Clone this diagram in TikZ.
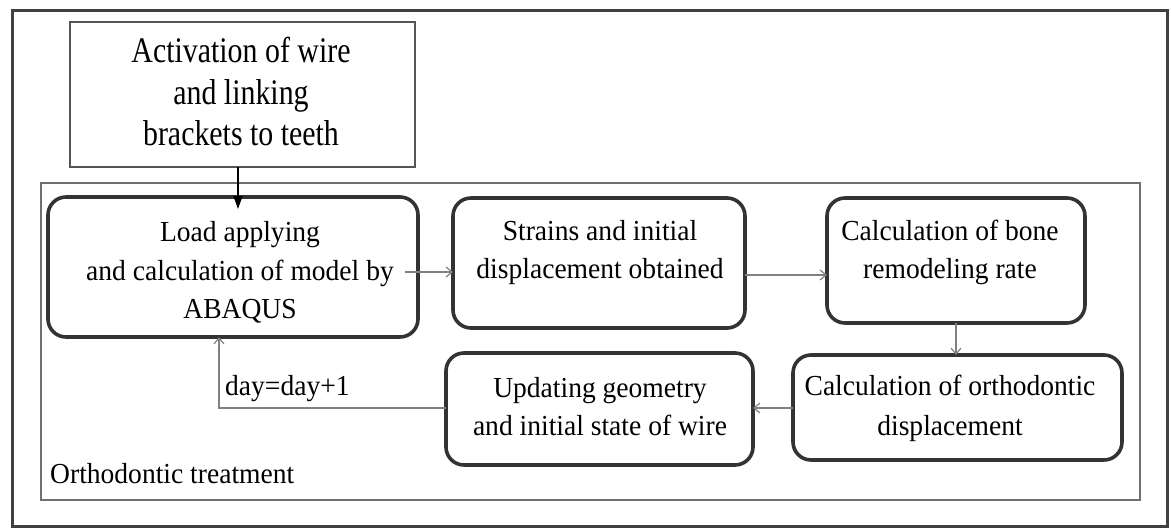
\documentclass[tikz,border=0pt]{standalone}
\usepackage{fontspec}
\setmainfont{Liberation Serif}
\newfontfamily\tallfont[FakeStretch=0.83]{Liberation Serif}
\newfontfamily\boxfont[FakeStretch=0.95]{Liberation Serif}
\usetikzlibrary{arrows.meta,calc}
\definecolor{framecol}{HTML}{404040}
\definecolor{contcol}{HTML}{707070}
\definecolor{topcol}{HTML}{555555}
\definecolor{boxcol}{HTML}{333333}
\definecolor{arrcol}{HTML}{808080}
\begin{document}
\begin{tikzpicture}[x=1pt,y=-1pt,
  rbox/.style={draw=boxcol, line width=3.6pt, rounded corners=18pt, inner sep=0pt, outer sep=0pt},
  plainbox/.style={draw=topcol, line width=1.3pt, inner sep=0pt, outer sep=0pt},
  txt/.style={align=center, inner sep=0pt, font=\boxfont\fontsize{29}{38.5}\selectfont},
  garr/.style={draw=arrcol, line width=1.4pt, -{Straight Barb[length=6pt,width=10pt,line width=1.2pt]}},
  karr/.style={draw=black, line width=1.3pt, -{Triangle[length=13pt,width=9pt]}}]
\useasboundingbox (0,0) rectangle (1171,528);
% outer frame and container
\node[draw=framecol, line width=3pt, minimum width=1155pt, minimum height=516pt, inner sep=0pt] (outer) at (589.5,268) {};
\node[draw=contcol, line width=1.3pt, minimum width=1099pt, minimum height=317pt, inner sep=0pt] (cont) at (590.5,341.5) {};
% top box
\node[plainbox, minimum width=345pt, minimum height=145pt] (tb) at (242.5,94.5) {};
\node[align=center, inner sep=0pt, font=\tallfont\fontsize{36}{41.5}\selectfont] (t0) at (241,91.5) {Activation of wire\\and linking\\brackets to teeth};
% rounded boxes
\node[rbox, minimum width=370pt, minimum height=140pt] (b1) at (233,267) {};
\node[rbox, minimum width=292pt, minimum height=130pt] (b2) at (599,263) {};
\node[rbox, minimum width=258pt, minimum height=125pt] (b3) at (956,260.5) {};
\node[rbox, minimum width=329pt, minimum height=105pt] (b4) at (957.5,407.5) {};
\node[rbox, minimum width=307pt, minimum height=112pt] (b5) at (599.5,409) {};
% texts
\node[txt] (t1) at (240,272.5) {Load applying\\ and calculation of model by\\ABAQUS};
\node[txt, font=\boxfont\fontsize{29}{38}\selectfont] (t2) at (600,252.5) {Strains and initial\\displacement obtained};
\node[txt, font=\boxfont\fontsize{29}{38}\selectfont] (t3) at (950,252.5) {Calculation of bone\\remodeling rate};
\node[txt, font=\boxfont\fontsize{29}{40}\selectfont] (t4) at (950,408.5) {Calculation of orthodontic\\displacement};
\node[txt, font=\boxfont\fontsize{29}{38}\selectfont] (t5) at (600,406.5) {Updating geometry\\and initial state of wire};
\node[txt, anchor=base west] (lab) at (50,483) {Orthodontic treatment};
\node[txt, anchor=base west] (day) at (225,395) {day=day+1};
% connectors
\coordinate (a1) at (238,167);
\coordinate (a1e) at (238,209);
\draw[karr] (a1) -- (a1e);
\coordinate (s12) at (405,272);
\draw[garr] (s12) -- (s12 -| b2.west);
\coordinate (s23) at (745,275);
\draw[garr] (s23) -- (s23 -| b3.west);
\draw[garr] (b3.south) -- (b3.south |- b4.north);
\coordinate (s45) at (793,408);
\draw[garr] (s45) -- (s45 -| b5.east);
\coordinate (lp) at (219,408);
\draw[garr] (lp -| b5.west) -- (lp) -- (lp |- b1.south);
\end{tikzpicture}
\end{document}
